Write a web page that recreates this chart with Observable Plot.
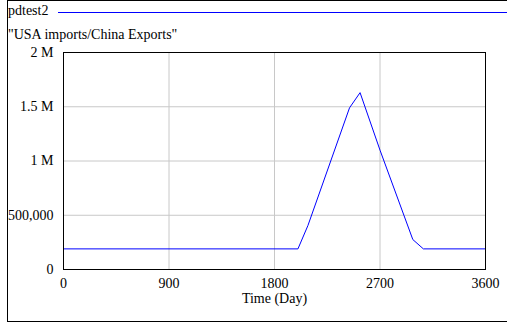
<!DOCTYPE html>
<html><head><meta charset="utf-8">
<script src="https://cdn.jsdelivr.net/npm/d3@7"></script>
<script src="https://cdn.jsdelivr.net/npm/@observablehq/plot@0.6"></script>
<style>
body{margin:0;background:#fff;width:507px;height:324px;overflow:hidden;position:relative;font-family:"Liberation Serif","Times New Roman",serif;}
#frame{position:absolute;left:7px;top:0;width:510px;height:322px;border:1px solid #000;box-sizing:border-box;}
#leg{position:absolute;left:8px;top:3px;font-size:14px;line-height:16px;}
#legline{position:absolute;left:58px;top:12px;width:460px;height:0;border-top:1px solid #0000ff;}
#title{position:absolute;left:8px;top:27px;font-size:14px;line-height:16px;}
#chart{position:absolute;left:0;top:44px;}
</style></head>
<body>
<div id="frame"></div>
<div id="leg">pdtest2</div>
<div id="legline"></div>
<div id="title">"USA imports/China Exports"</div>
<div id="chart"></div>
<script>
const time = [0, 2000, 2085, 2440, 2530, 2700, 2980, 3070, 3600];
const value = [190000, 190000, 405000, 1490000, 1630000, 1100000, 276000, 190000, 190000];
const xTicks = [0, 900, 1800, 2700, 3600];
const yTicks = [0, 500000, 1000000, 1500000, 2000000];
const yTickLabels = ["0", "500,000", "1 M", "1.5 M", "2 M"];
const data = time.map((t, i) => ({t, v: value[i]}));

const plot = Plot.plot({
  width: 507, height: 280,
  marginLeft: 63, marginRight: 22, marginTop: 8, marginBottom: 55,
  style: {fontFamily: '"Liberation Serif","Times New Roman",serif', fontSize: "14px", background: "transparent", color: "#000"},
  x: {domain: [0, 3600], ticks: xTicks, tickFormat: d => String(d), tickSize: 0, tickPadding: 9, label: null},
  y: {domain: [0, 2000000], ticks: yTicks, tickFormat: d => yTickLabels[yTicks.indexOf(d)], tickSize: 0, tickPadding: 10, label: null},
  marks: [
    Plot.gridX(xTicks, {stroke: "#c8c8c8", strokeOpacity: 1}),
    Plot.gridY(yTicks, {stroke: "#c8c8c8", strokeOpacity: 1}),
    Plot.line(data, {x: "t", y: "v", stroke: "#0000ff", strokeWidth: 1}),
    Plot.frame({stroke: "#000"}),
    Plot.text(["Time (Day)"], {frameAnchor: "bottom", dy: 33, text: d => d, fontSize: 14, fill: "#000"})
  ]
});
document.getElementById("chart").appendChild(plot);
</script>
</body></html>
